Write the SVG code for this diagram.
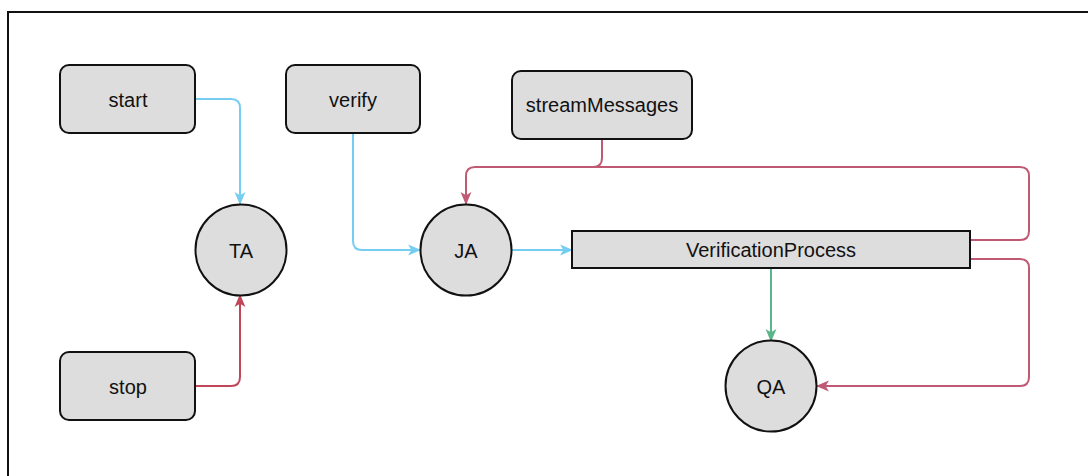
<svg xmlns="http://www.w3.org/2000/svg" width="1088" height="476" viewBox="0 0 1088 476">
  <style>
    .box { fill: #dddddd; stroke: #111111; stroke-width: 2; }
    .lbl { font-family: "Liberation Sans", Arial, sans-serif; font-size: 20px; fill: #111111; text-anchor: middle; dominant-baseline: central; }
    .edge { fill: none; stroke-width: 2; }
    .blue { stroke: #76cdf2; }
    .red { stroke: #c1465a; }
    .pink { stroke: #c05a74; }
    .green { stroke: #5bb48a; }
  </style>
  <defs>
    <marker id="ah-blue" viewBox="0 0 12 12" refX="11" refY="6" markerWidth="13" markerHeight="13" markerUnits="userSpaceOnUse" orient="auto">
      <path d="M0,1 L12,6 L0,11 L3,6 Z" fill="#76cdf2"/>
    </marker>
    <marker id="ah-red" viewBox="0 0 12 12" refX="11" refY="6" markerWidth="13" markerHeight="13" markerUnits="userSpaceOnUse" orient="auto">
      <path d="M0,1 L12,6 L0,11 L3,6 Z" fill="#c1465a"/>
    </marker>
    <marker id="ah-pink" viewBox="0 0 12 12" refX="11" refY="6" markerWidth="13" markerHeight="13" markerUnits="userSpaceOnUse" orient="auto">
      <path d="M0,1 L12,6 L0,11 L3,6 Z" fill="#c05a74"/>
    </marker>
    <marker id="ah-green" viewBox="0 0 12 12" refX="11" refY="6" markerWidth="13" markerHeight="13" markerUnits="userSpaceOnUse" orient="auto">
      <path d="M0,1 L12,6 L0,11 L3,6 Z" fill="#5bb48a"/>
    </marker>
  </defs>

  <rect width="1088" height="476" fill="#ffffff"/>
  <!-- outer frame -->
  <path d="M8,476 V12 H1088" fill="none" stroke="#111111" stroke-width="2"/>

  <g id="connectors">
    <path class="edge blue" d="M195,99 H231 Q240,99 240,108 V204" marker-end="url(#ah-blue)"/>
    <path class="edge red" d="M195,386 H231 Q240,386 240,377 V295" marker-end="url(#ah-red)"/>
    <path class="edge blue" d="M353,133 V241 Q353,250 362,250 H420" marker-end="url(#ah-blue)"/>
    <path class="edge blue" d="M512,250 H572" marker-end="url(#ah-blue)"/>
    <path class="edge pink" d="M602,139 V158 Q602,167 593,167 H475 Q466,167 466,176 V204" marker-end="url(#ah-pink)"/>
    <path class="edge pink" d="M970,240 H1020 Q1029,240 1029,231 V176 Q1029,167 1020,167 H593"/>
    <path class="edge pink" d="M970,259 H1020 Q1029,259 1029,268 V377 Q1029,386 1020,386 H817" marker-end="url(#ah-pink)"/>
    <path class="edge green" d="M771,268 V341" marker-end="url(#ah-green)"/>
  </g>

  <g id="start">
    <rect class="box" x="60" y="65" width="135" height="68" rx="9"/>
    <text class="lbl" x="128" y="100">start</text>
  </g>
  <g id="verify">
    <rect class="box" x="286" y="65" width="134" height="68" rx="9"/>
    <text class="lbl" x="353" y="100">verify</text>
  </g>
  <g id="streamMessages">
    <rect class="box" x="512" y="71" width="180" height="68" rx="9"/>
    <text class="lbl" x="602" y="105">streamMessages</text>
  </g>
  <g id="stop">
    <rect class="box" x="60" y="352" width="135" height="68" rx="9"/>
    <text class="lbl" x="128" y="387">stop</text>
  </g>
  <g id="TA">
    <circle class="box" cx="241" cy="250" r="45.5"/>
    <text class="lbl" x="241" y="251">TA</text>
  </g>
  <g id="JA">
    <circle class="box" cx="466" cy="250" r="45.5"/>
    <text class="lbl" x="466" y="251">JA</text>
  </g>
  <g id="VerificationProcess">
    <rect class="box" x="572" y="231" width="398" height="37" rx="0"/>
    <text class="lbl" x="771" y="250">VerificationProcess</text>
  </g>
  <g id="QA">
    <circle class="box" cx="771" cy="386" r="45.5"/>
    <text class="lbl" x="771" y="387">QA</text>
  </g>
</svg>
